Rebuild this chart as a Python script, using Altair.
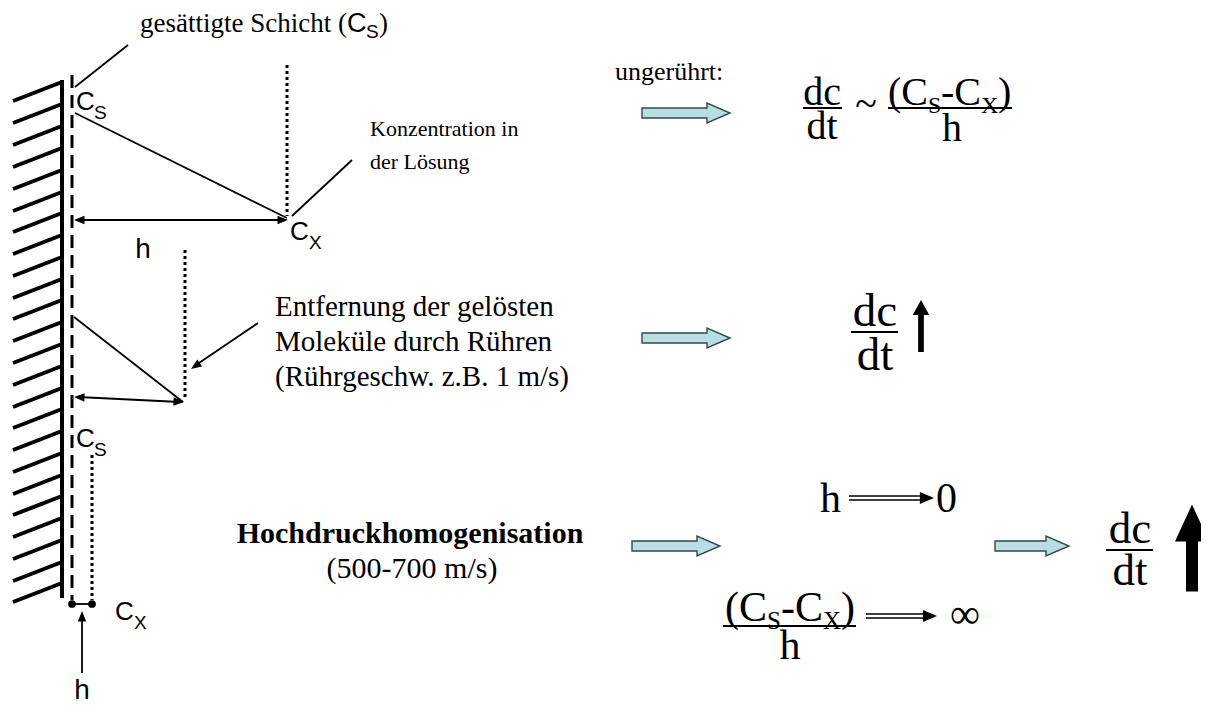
import altair as alt
import pandas as pd

# ---------------- values (diagram space = image pixels) ----------------
# wall and its hatching
wall_x = [62]
wall_top = [80]
wall_bottom = [598]
hatch_wall_y = [82, 104, 126, 148, 170, 192, 213, 235, 257, 279, 300, 322,
                344, 366, 388, 409, 431, 453, 475, 496, 518, 540, 562, 583]
hatch_left_y = [101, 123, 145, 167, 189, 211, 232, 254, 276, 298, 319, 341,
                363, 385, 407, 428, 450, 472, 494, 515, 537, 559, 581, 602]
hatch_left_x = 13

# dashed boundary (saturated layer) and dotted concentration fronts
dash_x1 = [72]; dash_y1 = [75]; dash_x2 = [72]; dash_y2 = [600]
dot_x1 = [287, 185, 92]
dot_y1 = [65, 250, 455]
dot_x2 = [287, 185, 92]
dot_y2 = [216, 398, 600]

# thin lines: label leaders, concentration profiles, arrow shafts
thin_x1 = [128, 75, 352, 74, 258, 78, 78, 72, 82]
thin_y1 = [45, 113, 160, 317, 323, 220, 397, 604, 673]
thin_x2 = [75, 287, 292, 183, 196, 284, 180, 92, 82]
thin_y2 = [87, 218, 216, 402, 365, 220, 402, 604, 616]

# small arrow heads (tip position, direction in degrees clockwise from +x)
head_x = [74, 288, 74, 184, 191, 82]
head_y = [220, 220, 397, 402, 369, 611]
head_a = [180, 0, 182.6, 2.6, 145.7, 270]

# dots at the bottom (h -> 0)
dots_x = [72, 92]
dots_y = [604, 604]

# double-line implication arrows
impl_x1 = [849, 849, 866, 866]
impl_y1 = [496, 500, 614, 618]
impl_x2 = [920, 920, 923, 923]
impl_y2 = [496, 500, 614, 618]
impl_head_x = [934, 937]
impl_head_y = [498, 616]

# fraction bars
frac_x1 = [803, 888, 851, 1106, 723]
frac_y1 = [108, 108, 332, 550, 626]
frac_x2 = [842, 1012, 898, 1153, 856]
frac_y2 = [108, 108, 332, 550, 626]

# light-blue block arrows (centres)
block_x = [686, 686, 676]
block_y = [113, 338, 546]
block_short_x = [1032]
block_short_y = [546]

# black "increase" arrows (centres)
up_small_x = [921]; up_small_y = [326]
up_big_x = [1192]; up_big_y = [548]

# texts
serif29_t = ["Entfernung der gelösten", "Moleküle durch Rühren", "(Rührgeschw. z.B. 1 m/s)"]
serif29_x = [275, 275, 275]
serif29_y = [316, 351, 386]

konz_t = ["Konzentration in", "der Lösung"]
konz_x = [370, 370]
konz_y = [136, 169]

gesaett_t = ["gesättigte Schicht (", ")"]
gesaett_x = [140, 379]
gesaett_y = [32, 32]
gesaett_c_x = [347]; gesaett_c_y = [32]
gesaett_s_x = [366]; gesaett_s_y = [38]

unger_t = ["ungerührt:"]; unger_x = [615]; unger_y = [80]

bold_t = ["Hochdruckhomogenisation"]; bold_x = [410]; bold_y = [543]
speed_t = ["(500-700 m/s)"]; speed_x = [412]; speed_y = [578]

# Arial labels C with subscripts, and h
lab_c_x = [76, 290, 76, 115]
lab_c_y = [110, 240, 447, 620]
lab_sub_t = ["S", "X", "S", "X"]
lab_sub_x = [94, 309, 94, 134]
lab_sub_y = [119, 249, 456, 629]
lab_h_x = [143, 82]
lab_h_y = [258, 699]

# top formula (40px)
f1_t = ["(C", "-C", ")"]
f1_x = [888, 941, 998]
f1_y = [105, 105, 105]
f1_sub_t = ["S", "X"]; f1_sub_x = [928, 981]; f1_sub_y = [113, 113]
f1_c_t = ["dc", "dt", "h"]; f1_c_x = [822, 822, 952]; f1_c_y = [105, 139, 141]
tilde_t = ["~"]; tilde_x = [866]; tilde_y = [117]

# middle dc/dt (47px)
f2_t = ["dc", "dt"]; f2_x = [875, 875]; f2_y = [326, 370]
# bottom-right dc/dt (45px)
f3_t = ["dc", "dt"]; f3_x = [1130, 1130]; f3_y = [543, 585]

# bottom middle formulas (42px)
f4_t = ["h", "0", "(C", "-C", ")"]
f4_x = [820, 936, 725, 781, 841]
f4_y = [512, 512, 621, 621, 621]
f4_sub_t = ["S", "X"]; f4_sub_x = [767, 823]; f4_sub_y = [629, 629]
f4_c_t = ["h"]; f4_c_x = [790]; f4_c_y = [659]
inf_t = ["∞"]; inf_x = [950]; inf_y = [628]

# ---------------- chart ----------------
XS = alt.Scale(domain=[8, 1201], nice=False, zero=False)
YS = alt.Scale(domain=[8, 705], nice=False, zero=False, reverse=True)
X = alt.X("x:Q", scale=XS, axis=None)
Y = alt.Y("y:Q", scale=YS, axis=None)

SERIF = "Liberation Serif"
SANS = "Liberation Sans"


def segs(x1, y1, x2, y2):
    return pd.DataFrame({"x": x1, "y": y1, "x2": x2, "y2": y2})


def rules(df, width, dash=None, cap="butt"):
    kw = dict(strokeWidth=width, color="black", strokeCap=cap)
    if dash:
        kw["strokeDash"] = dash
    return alt.Chart(df).mark_rule(**kw).encode(x=X, y=Y, x2="x2:Q", y2="y2:Q")


def texts(t, x, y, font, size, align="left", weight="normal"):
    df = pd.DataFrame({"t": t, "x": x, "y": y})
    return alt.Chart(df).mark_text(font=font, fontSize=size, fontWeight=weight,
                                   align=align, baseline="alphabetic",
                                   color="black").encode(x=X, y=Y, text="t:N")


def symbols(x, y, shape, size, fill, stroke=None, sw=0, angle=None):
    d = {"x": x, "y": y}
    enc = dict(x=X, y=Y)
    if angle is not None:
        d["a"] = angle
        enc["angle"] = alt.Angle("a:Q", scale=None)
    kw = dict(shape=shape, size=size, filled=True, fill=fill, opacity=1)
    if stroke:
        kw["stroke"] = stroke
        kw["strokeWidth"] = sw
    else:
        kw["strokeWidth"] = 0
    return alt.Chart(pd.DataFrame(d)).mark_point(**kw).encode(**enc)


layers = []
# wall + hatching
layers.append(rules(segs(wall_x, wall_top, wall_x, wall_bottom), 4))
layers.append(rules(segs([hatch_left_x] * len(hatch_wall_y), hatch_left_y,
                         wall_x * len(hatch_wall_y), hatch_wall_y), 4))
# dashed and dotted lines
layers.append(rules(segs(dash_x1, dash_y1, dash_x2, dash_y2), 3, dash=[13, 7]))
layers.append(rules(segs(dot_x1, dot_y1, dot_x2, dot_y2), 3, dash=[3, 3]))
# thin lines
layers.append(rules(segs(thin_x1, thin_y1, thin_x2, thin_y2), 1.8))
layers.append(rules(segs(impl_x1, impl_y1, impl_x2, impl_y2), 1.6))
layers.append(rules(segs(frac_x1, frac_y1, frac_x2, frac_y2), 2.2))

HEAD = "M0,0 L-2,-0.8 L-2,0.8 Z"
layers.append(symbols(head_x, head_y, HEAD, 110, "black", angle=head_a))
layers.append(symbols(impl_head_x, impl_head_y, "M0,0 L-2,-0.85 L-2,0.85 Z", 200, "black"))
layers.append(symbols(dots_x, dots_y, "circle", 60, "black"))

BLOCK = "M-1,-0.114 L0.477,-0.114 L0.477,-0.227 L1,0 L0.477,0.227 L0.477,0.114 L-1,0.114 Z"
BLOCK_SHORT = "M-1,-0.135 L0.378,-0.135 L0.378,-0.27 L1,0 L0.378,0.27 L0.378,0.135 L-1,0.135 Z"
layers.append(symbols(block_x, block_y, BLOCK, 88 * 88, "#b9dde3", stroke="#2f4a4d", sw=1.4))
layers.append(symbols(block_short_x, block_short_y, BLOCK_SHORT, 74 * 74, "#b9dde3",
                      stroke="#2f4a4d", sw=1.4))

UP_SMALL = "M0,-1 L0.32,-0.42 L0.11,-0.42 L0.11,1 L-0.11,1 L-0.11,-0.42 L-0.32,-0.42 Z"
UP_BIG = "M0,-1 L0.391,-0.149 L0.138,-0.149 L0.138,1 L-0.138,1 L-0.138,-0.149 L-0.391,-0.149 Z"
layers.append(symbols(up_small_x, up_small_y, UP_SMALL, 52 * 52, "black"))
layers.append(symbols(up_big_x, up_big_y, UP_BIG, 87 * 87, "black"))

# texts
layers.append(texts(serif29_t, serif29_x, serif29_y, SERIF, 29))
layers.append(texts(konz_t, konz_x, konz_y, SERIF, 22))
layers.append(texts(gesaett_t, gesaett_x, gesaett_y, SERIF, 27))
layers.append(texts(["C"], gesaett_c_x, gesaett_c_y, SANS, 27))
layers.append(texts(["S"], gesaett_s_x, gesaett_s_y, SANS, 19))
layers.append(texts(unger_t, unger_x, unger_y, SERIF, 26))
layers.append(texts(bold_t, bold_x, bold_y, SERIF, 30, align="center", weight="bold"))
layers.append(texts(speed_t, speed_x, speed_y, SERIF, 30, align="center"))
layers.append(texts(["C"] * 4, lab_c_x, lab_c_y, SANS, 26))
layers.append(texts(lab_sub_t, lab_sub_x, lab_sub_y, SANS, 19))
layers.append(texts(["h", "h"], lab_h_x, lab_h_y, SANS, 28, align="center"))

layers.append(texts(f1_t, f1_x, f1_y, SERIF, 40))
layers.append(texts(f1_sub_t, f1_sub_x, f1_sub_y, SERIF, 24))
layers.append(texts(f1_c_t, f1_c_x, f1_c_y, SERIF, 40, align="center"))
layers.append(texts(tilde_t, tilde_x, tilde_y, SERIF, 40, align="center"))
layers.append(texts(f2_t, f2_x, f2_y, SERIF, 47, align="center"))
layers.append(texts(f3_t, f3_x, f3_y, SERIF, 45, align="center"))
layers.append(texts(f4_t, f4_x, f4_y, SERIF, 42))
layers.append(texts(f4_sub_t, f4_sub_x, f4_sub_y, SERIF, 25))
layers.append(texts(f4_c_t, f4_c_x, f4_c_y, SERIF, 42, align="center"))
layers.append(texts(inf_t, inf_x, inf_y, SERIF, 42))

chart = alt.layer(*layers).properties(
    width=1193, height=697, padding=0, autosize=alt.AutoSizeParams(type="none")
).configure_view(stroke=None)

chart.save("out.html", embed_options={"renderer": "svg", "actions": False})
